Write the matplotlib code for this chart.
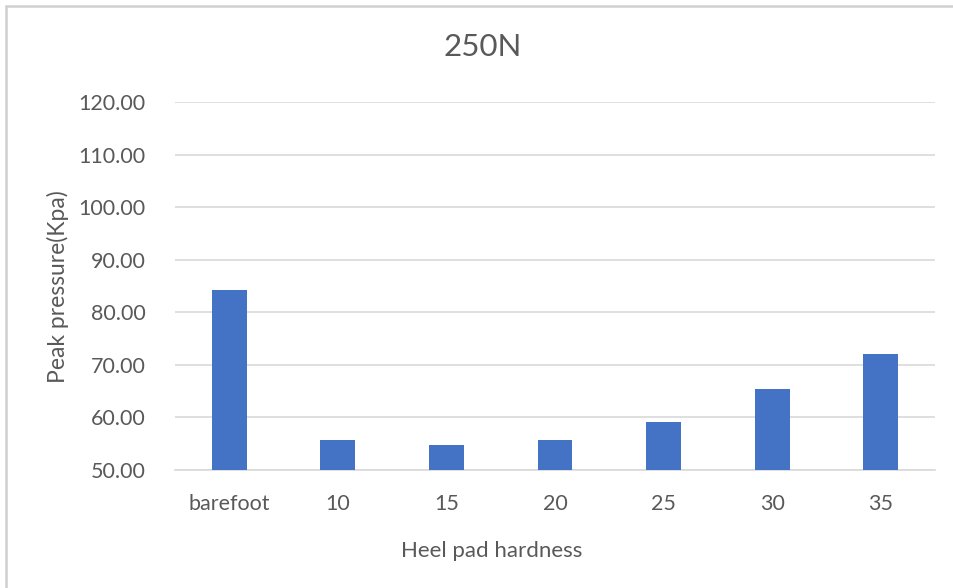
import matplotlib.pyplot as plt
from matplotlib.patches import Rectangle

plt.rcParams["font.family"] = ["Lato", "DejaVu Sans"]

categories = ["barefoot", "10", "15", "20", "25", "30", "35"]
peak_pressure = [84.2, 55.7, 54.7, 55.7, 59.2, 65.4, 72.1]
yticks = [50, 60, 70, 80, 90, 100, 110, 120]

TEXT = "#595959"
BAR = "#4472C4"
GRID = "#D9D9D9"

W, H = 954, 588
fig = plt.figure(figsize=(W / 100, H / 100), dpi=100)
# chart-area frame: only its left and top edges fall inside the image
fig.patches.append(Rectangle((6 / W, -0.05), 1.2, 1.05 - 6 / H, transform=fig.transFigure,
                             fill=False, edgecolor="#D0D0D0", linewidth=1.8))
ax = fig.add_axes([175 / W, 1 - 470 / H, 760 / W, 368 / H])

x = list(range(len(categories)))
ax.bar(x, peak_pressure, width=0.32, color=BAR, zorder=3)
ax.set_xlim(-0.5, len(categories) - 0.5)
ax.set_ylim(50, 120)
ax.set_yticks(yticks)
ax.set_yticklabels([f"{v:.2f}" for v in yticks])
ax.set_xticks(x)
ax.set_xticklabels(categories)
ax.yaxis.grid(True, color=GRID, linewidth=1.2, zorder=0)
for s in ["top", "right", "left"]:
    ax.spines[s].set_visible(False)
ax.spines["bottom"].set_color(GRID)
ax.spines["bottom"].set_linewidth(1.2)
ax.tick_params(length=0, labelsize=15.5, colors=TEXT)
ax.tick_params(axis="x", pad=17)
ax.tick_params(axis="y", pad=21)

fig.text(483 / W, 1 - 47 / H, "250N", fontsize=22.5, color=TEXT, ha="center", va="center")
ax.set_xlabel("Heel pad hardness", fontsize=16, color=TEXT)
ax.xaxis.label.set_va("center")
ax.xaxis.set_label_coords((492 - 175) / 760, (470 - 551) / 368)
ax.set_ylabel("Peak pressure(Kpa)", fontsize=16.5, color=TEXT)
ax.yaxis.label.set_va("center")
ax.yaxis.set_label_coords((58 - 175) / 760, (470 - 287) / 368)

fig.savefig("out.png", dpi=100)
